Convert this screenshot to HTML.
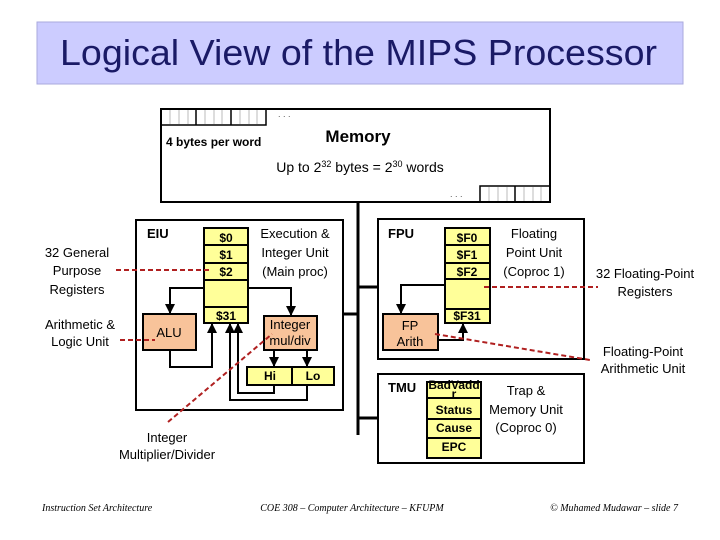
<!DOCTYPE html>
<html><head><meta charset="utf-8"><style>
html,body{margin:0;padding:0;background:#fff;width:720px;height:540px;overflow:hidden}
text{font-family:"Liberation Sans",sans-serif}
</style></head><body>
<svg width="720" height="540" viewBox="0 0 720 540" xmlns="http://www.w3.org/2000/svg">
<defs><marker id="a" viewBox="0 0 10 10" refX="9" refY="5" markerWidth="5" markerHeight="5" orient="auto"><path d="M0,0L10,5L0,10z" fill="#000"/></marker></defs>
<rect x="37" y="22" width="646" height="62" fill="#ccccff" stroke="#aaaadd"/>
<text x="60" y="65" font-size="36" textLength="597" lengthAdjust="spacingAndGlyphs" fill="#1a1a66">Logical View of the MIPS Processor</text>

<!-- Memory -->
<rect x="161" y="109" width="389" height="93" fill="#fff" stroke="#000" stroke-width="2"/>
<g stroke="#000" stroke-width="1.5" fill="none"><path d="M161,125H266V109M196,109V125M231,109V125"/><path d="M480,202V186H550M515,186V202"/></g>
<g stroke="#bbb"><path d="M170,110V124M179,110V124M188,110V124M205,110V124M214,110V124M222,110V124M240,110V124M249,110V124M257,110V124M489,187V201M498,187V201M507,187V201M524,187V201M533,187V201M541,187V201"/></g>
<text x="278" y="117" font-size="9" fill="#555">. . .</text>
<text x="450" y="197" font-size="9" fill="#555">. . .</text>
<text x="166" y="146" font-size="12" font-weight="bold">4 bytes per word</text>
<text x="358" y="142" font-size="17" font-weight="bold" text-anchor="middle">Memory</text>
<text x="360" y="172" font-size="14" text-anchor="middle">Up to 2<tspan font-size="9" dy="-5">32</tspan><tspan dy="5"> bytes = 2</tspan><tspan font-size="9" dy="-5">30</tspan><tspan dy="5"> words</tspan></text>

<!-- bus -->
<g stroke="#000" stroke-width="3"><path d="M358,202V435M343,314H358M358,287H378M358,418H378"/></g>

<!-- EIU -->
<rect x="136" y="220" width="207" height="190" fill="#fff" stroke="#000" stroke-width="2"/>
<text x="147" y="238" font-size="13" font-weight="bold">EIU</text>
<rect x="204" y="228" width="44" height="95" fill="#ffff99" stroke="#000" stroke-width="2"/>
<path d="M204,245H248M204,263H248M204,280H248M204,307H248" stroke="#000" stroke-width="2"/>
<g font-size="12" font-weight="bold" text-anchor="middle"><text x="226" y="242">$0</text><text x="226" y="259">$1</text><text x="226" y="276">$2</text><text x="226" y="320">$31</text></g>
<g font-size="13" text-anchor="middle"><text x="295" y="238">Execution &amp;</text><text x="295" y="257">Integer Unit</text><text x="295" y="276">(Main proc)</text></g>
<rect x="143" y="314" width="53" height="36" fill="#f8c39a" stroke="#000" stroke-width="2"/>
<text x="169" y="337" font-size="13" text-anchor="middle">ALU</text>
<rect x="264" y="316" width="53" height="34" fill="#f8c39a" stroke="#000" stroke-width="2"/>
<text x="290" y="329" font-size="13" text-anchor="middle">Integer</text><text x="290" y="345" font-size="13" text-anchor="middle">mul/div</text>
<rect x="247" y="367" width="87" height="18" fill="#ffff99" stroke="#000" stroke-width="2"/>
<path d="M292,367V385" stroke="#000" stroke-width="2"/>
<text x="270" y="380" font-size="12" font-weight="bold" text-anchor="middle">Hi</text><text x="313" y="380" font-size="12" font-weight="bold" text-anchor="middle">Lo</text>
<g stroke="#000" stroke-width="2" fill="none" marker-end="url(#a)">
<path d="M204,288H170V313"/><path d="M170,350V367H212V324"/><path d="M248,288H291V315"/><path d="M274,350V366"/><path d="M307,350V366"/><path d="M274,385V393H238V324"/><path d="M307,385V400H230V324"/></g>

<!-- FPU -->
<rect x="378" y="219" width="206" height="140" fill="#fff" stroke="#000" stroke-width="2"/>
<text x="388" y="238" font-size="13" font-weight="bold">FPU</text>
<rect x="445" y="228" width="45" height="95" fill="#ffff99" stroke="#000" stroke-width="2"/>
<path d="M445,245H490M445,263H490M445,279H490M445,309H490" stroke="#000" stroke-width="2"/>
<g font-size="12" font-weight="bold" text-anchor="middle"><text x="467" y="242">$F0</text><text x="467" y="259">$F1</text><text x="467" y="276">$F2</text><text x="467" y="320">$F31</text></g>
<g font-size="13" text-anchor="middle"><text x="534" y="238">Floating</text><text x="534" y="257">Point Unit</text><text x="534" y="276">(Coproc 1)</text></g>
<rect x="383" y="314" width="55" height="36" fill="#f8c39a" stroke="#000" stroke-width="2"/>
<text x="410" y="330" font-size="13" text-anchor="middle">FP</text><text x="410" y="346" font-size="13" text-anchor="middle">Arith</text>
<g stroke="#000" stroke-width="2" fill="none" marker-end="url(#a)"><path d="M445,285H401V313"/><path d="M438,340H463V324"/></g>

<!-- TMU -->
<rect x="378" y="374" width="206" height="89" fill="#fff" stroke="#000" stroke-width="2"/>
<text x="388" y="392" font-size="13" font-weight="bold">TMU</text>
<rect x="427" y="382" width="54" height="76" fill="#ffff99" stroke="#000" stroke-width="2"/>
<path d="M427,398H481M427,419H481M427,438H481" stroke="#000" stroke-width="2"/>
<g font-size="12" font-weight="bold" text-anchor="middle"><text x="454" y="389">BadVadd</text><text x="454" y="398">r</text><text x="454" y="414">Status</text><text x="454" y="432">Cause</text><text x="454" y="451">EPC</text></g>
<g font-size="13" text-anchor="middle"><text x="526" y="395">Trap &amp;</text><text x="526" y="414">Memory Unit</text><text x="526" y="432">(Coproc 0)</text></g>

<!-- labels -->
<g font-size="13" text-anchor="middle">
<text x="77" y="257">32 General</text><text x="77" y="275">Purpose</text><text x="77" y="294">Registers</text>
<text x="80" y="329">Arithmetic &amp;</text><text x="80" y="346">Logic Unit</text>
<text x="167" y="442">Integer</text><text x="167" y="459">Multiplier/Divider</text>
<text x="645" y="278">32 Floating-Point</text><text x="645" y="296">Registers</text>
<text x="643" y="356">Floating-Point</text><text x="643" y="373">Arithmetic Unit</text></g>
<g stroke="#b02020" stroke-width="2" stroke-dasharray="5,3" fill="none">
<path d="M116,270H212"/><path d="M120,340H155"/><path d="M168,422L272,334"/><path d="M484,287H598"/><path d="M435,334L590,360"/></g>

<!-- footer -->
<g font-style="italic" font-size="10">
<text x="42" y="511" style="font-family:'Liberation Serif',serif">Instruction Set Architecture</text>
<text x="352" y="511" text-anchor="middle" style="font-family:'Liberation Serif',serif">COE 308 – Computer Architecture – KFUPM</text>
<text x="678" y="511" text-anchor="end" style="font-family:'Liberation Serif',serif">© Muhamed Mudawar – slide 7</text></g>
</svg>
</body></html>
